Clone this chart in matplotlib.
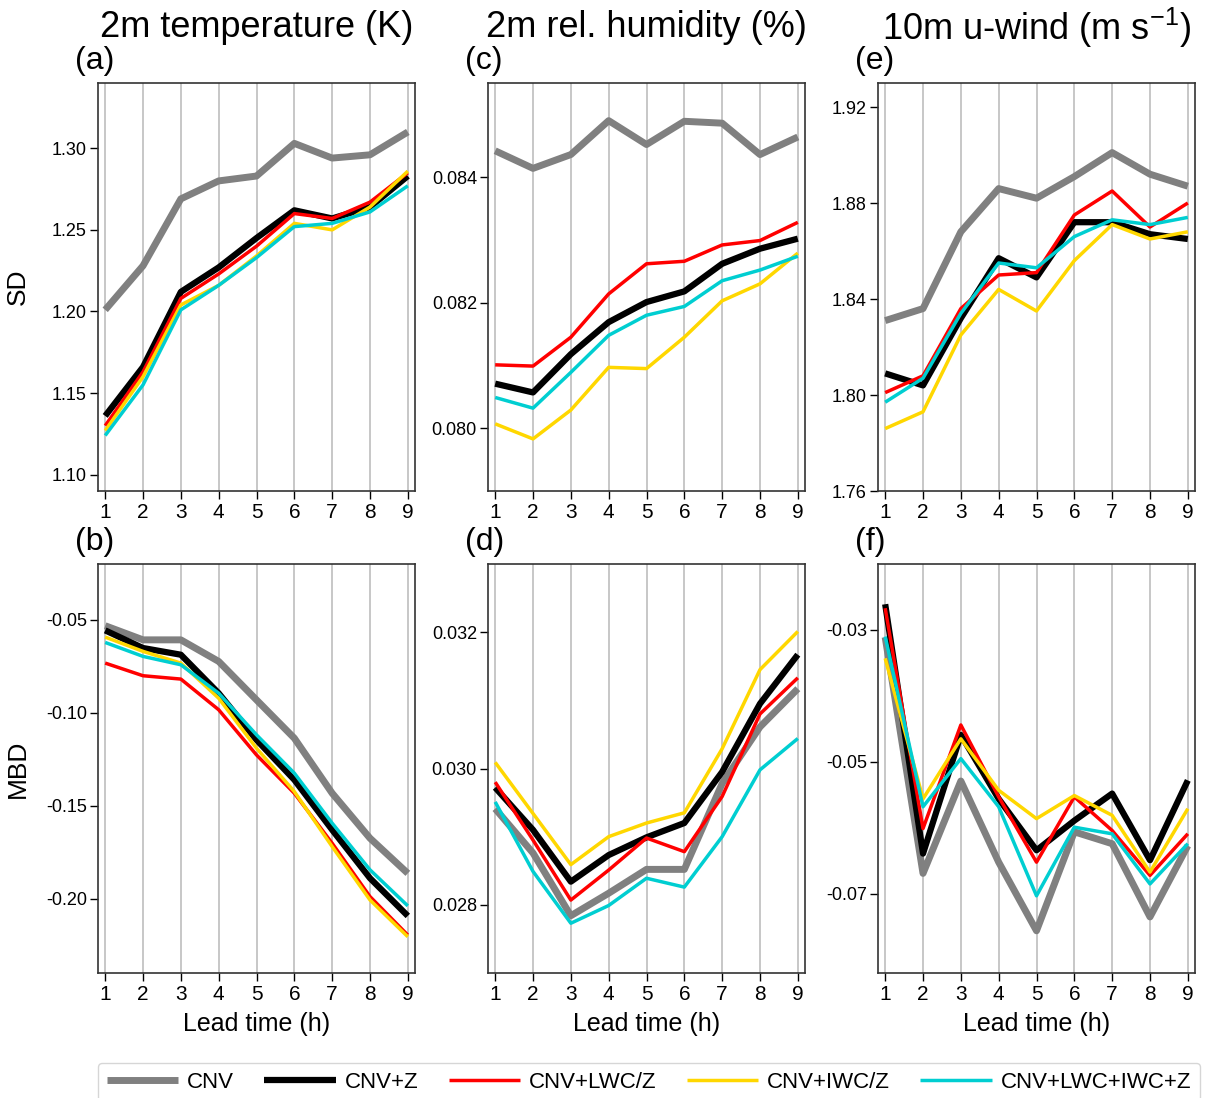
import numpy as np
import matplotlib
matplotlib.use("Agg")
import matplotlib.pyplot as plt
from matplotlib.ticker import FormatStrFormatter

plt.rcParams['font.family'] = ['Liberation Sans', 'DejaVu Sans']
plt.rcParams['mathtext.default'] = 'regular'
plt.rcParams['axes.unicode_minus'] = False

# lead times (h)
lead = [1, 2, 3, 4, 5, 6, 7, 8, 9]

experiments = ['CNV', 'CNV+Z', 'CNV+LWC/Z', 'CNV+IWC/Z', 'CNV+LWC+IWC+Z']

# (a) SD 2m temperature
sd_t2m_cnv   = [1.201, 1.228, 1.269, 1.280, 1.283, 1.303, 1.294, 1.296, 1.310]
sd_t2m_z     = [1.136, 1.166, 1.212, 1.227, 1.245, 1.262, 1.257, 1.264, 1.283]
sd_t2m_lwc   = [1.130, 1.163, 1.208, 1.223, 1.240, 1.260, 1.257, 1.267, 1.285]
sd_t2m_iwc   = [1.127, 1.160, 1.204, 1.216, 1.234, 1.254, 1.250, 1.264, 1.286]
sd_t2m_all   = [1.124, 1.155, 1.201, 1.216, 1.233, 1.252, 1.254, 1.261, 1.277]

# (c) SD 2m relative humidity
sd_rh2m_cnv  = [0.08442, 0.08414, 0.08436, 0.08490, 0.08452, 0.08489, 0.08486, 0.08436, 0.08464]
sd_rh2m_z    = [0.08071, 0.08057, 0.08118, 0.08169, 0.08201, 0.08218, 0.08262, 0.08286, 0.08302]
sd_rh2m_lwc  = [0.08101, 0.08099, 0.08145, 0.08214, 0.08262, 0.08266, 0.08292, 0.08299, 0.08328]
sd_rh2m_iwc  = [0.08007, 0.07983, 0.08029, 0.08097, 0.08095, 0.08145, 0.08203, 0.08230, 0.08279]
sd_rh2m_all  = [0.08049, 0.08032, 0.08089, 0.08148, 0.08180, 0.08194, 0.08235, 0.08252, 0.08274]

# (e) SD 10m u-wind
sd_u10_cnv   = [1.831, 1.836, 1.868, 1.886, 1.882, 1.891, 1.901, 1.892, 1.887]
sd_u10_z     = [1.809, 1.804, 1.832, 1.857, 1.849, 1.872, 1.872, 1.867, 1.865]
sd_u10_lwc   = [1.801, 1.808, 1.836, 1.850, 1.851, 1.875, 1.885, 1.870, 1.880]
sd_u10_iwc   = [1.786, 1.793, 1.825, 1.844, 1.835, 1.856, 1.871, 1.865, 1.868]
sd_u10_all   = [1.797, 1.807, 1.834, 1.855, 1.853, 1.866, 1.873, 1.871, 1.874]

# (b) MBD 2m temperature
mbd_t2m_cnv  = [-0.0532, -0.0608, -0.0608, -0.0724, -0.0931, -0.1137, -0.1433, -0.1675, -0.1864]
mbd_t2m_z    = [-0.0557, -0.0652, -0.0688, -0.0895, -0.1146, -0.1361, -0.1630, -0.1890, -0.2093]
mbd_t2m_lwc  = [-0.0733, -0.0801, -0.0819, -0.0984, -0.1227, -0.1433, -0.1702, -0.1989, -0.2196]
mbd_t2m_iwc  = [-0.0593, -0.0670, -0.0733, -0.0922, -0.1191, -0.1424, -0.1720, -0.2007, -0.2205]
mbd_t2m_all  = [-0.0622, -0.0697, -0.0742, -0.0895, -0.1119, -0.1325, -0.1594, -0.1845, -0.2039]

# (d) MBD 2m relative humidity
mbd_rh2m_cnv = [0.02941, 0.02876, 0.02784, 0.02817, 0.02852, 0.02852, 0.02978, 0.03061, 0.03117]
mbd_rh2m_z   = [0.02972, 0.02910, 0.02834, 0.02873, 0.02899, 0.02920, 0.02995, 0.03095, 0.03167]
mbd_rh2m_lwc = [0.02980, 0.02895, 0.02807, 0.02851, 0.02898, 0.02878, 0.02959, 0.03080, 0.03133]
mbd_rh2m_iwc = [0.03009, 0.02934, 0.02859, 0.02900, 0.02920, 0.02935, 0.03029, 0.03145, 0.03201]
mbd_rh2m_all = [0.02951, 0.02849, 0.02773, 0.02799, 0.02839, 0.02826, 0.02900, 0.02998, 0.03044]

# (f) MBD 10m u-wind
mbd_u10_cnv  = [-0.0311, -0.0669, -0.0529, -0.0652, -0.0756, -0.0606, -0.0624, -0.0735, -0.0627]
mbd_u10_z    = [-0.0261, -0.0639, -0.0459, -0.0556, -0.0634, -0.0589, -0.0548, -0.0649, -0.0528]
mbd_u10_lwc  = [-0.0267, -0.0601, -0.0444, -0.0553, -0.0652, -0.0553, -0.0604, -0.0672, -0.0609]
mbd_u10_iwc  = [-0.0343, -0.0556, -0.0465, -0.0543, -0.0586, -0.0551, -0.0581, -0.0667, -0.0571]
mbd_u10_all  = [-0.0310, -0.0568, -0.0495, -0.0568, -0.0703, -0.0599, -0.0609, -0.0685, -0.0624]

colors = ['#808080', 'black', 'red', '#FFD700', '#00CED1']
widths = [5.0, 4.5, 2.5, 2.5, 2.5]

col_titles = ['2m temperature (K)', '2m rel. humidity (%)', r'10m u-wind (m s$^{-1}$)']
row_labels = ['SD', 'MBD']
panel_tags = [['(a)', '(c)', '(e)'], ['(b)', '(d)', '(f)']]

panels = [
    [[sd_t2m_cnv, sd_t2m_z, sd_t2m_lwc, sd_t2m_iwc, sd_t2m_all],
     [sd_rh2m_cnv, sd_rh2m_z, sd_rh2m_lwc, sd_rh2m_iwc, sd_rh2m_all],
     [sd_u10_cnv, sd_u10_z, sd_u10_lwc, sd_u10_iwc, sd_u10_all]],
    [[mbd_t2m_cnv, mbd_t2m_z, mbd_t2m_lwc, mbd_t2m_iwc, mbd_t2m_all],
     [mbd_rh2m_cnv, mbd_rh2m_z, mbd_rh2m_lwc, mbd_rh2m_iwc, mbd_rh2m_all],
     [mbd_u10_cnv, mbd_u10_z, mbd_u10_lwc, mbd_u10_iwc, mbd_u10_all]],
]

ylims = [[(1.09, 1.34), (0.079, 0.0855), (1.76, 1.93)],
         [(-0.24, -0.02), (0.027, 0.033), (-0.082, -0.02)]]
yticks = [[[1.10, 1.15, 1.20, 1.25, 1.30], [0.080, 0.082, 0.084], [1.76, 1.80, 1.84, 1.88, 1.92]],
          [[-0.20, -0.15, -0.10, -0.05], [0.028, 0.030, 0.032], [-0.07, -0.05, -0.03]]]
yfmts = [['%.2f', '%.3f', '%.2f'], ['%.2f', '%.3f', '%.2f']]

W, H = 1205, 1098
fig = plt.figure(figsize=(W / 100, H / 100), dpi=100)

col_left = [98, 488, 878]
ax_w = 317
row_top = [83, 564]
ax_h = [408, 409]

handles = []
for r in range(2):
    for c in range(3):
        ax = fig.add_axes([col_left[c] / W, 1 - (row_top[r] + ax_h[r]) / H,
                           ax_w / W, ax_h[r] / H])
        for i, series in enumerate(panels[r][c]):
            ln, = ax.plot(lead, series, color=colors[i], lw=widths[i],
                          solid_capstyle='butt', zorder=2 + i, label=experiments[i])
            if r == 0 and c == 0:
                handles.append(ln)
        ax.set_xlim(0.81, 9.19)
        ax.set_ylim(*ylims[r][c])
        ax.set_xticks(lead)
        ax.set_yticks(yticks[r][c])
        ax.yaxis.set_major_formatter(FormatStrFormatter(yfmts[r][c]))
        ax.grid(axis='x', color='#bdbdbd', lw=1.2, zorder=0)
        ax.set_axisbelow(True)
        ax.tick_params(axis='x', labelsize=15, length=6, width=1.0, pad=3)
        ax.tick_params(axis='y', labelsize=13, length=6, width=1.0, pad=2)
        for sp in ax.spines.values():
            sp.set_color('#333333')
            sp.set_linewidth(1.2)
        ax.text(-0.073, 1.055, panel_tags[r][c], transform=ax.transAxes,
                ha='left', va='center', fontsize=23)
        if r == 0:
            ax.text(0.5, 1.135, col_titles[c], transform=ax.transAxes,
                    ha='center', va='center', fontsize=26)
        else:
            ax.set_xlabel('Lead time (h)', fontsize=18)
            ax.xaxis.set_label_coords(0.5, -0.095)
        if c == 0:
            ax.set_ylabel(row_labels[r], fontsize=19)
            ax.yaxis.set_label_coords(-0.214, 0.5)

fig.legend(handles=handles, labels=experiments, loc='upper left', ncol=5,
           mode='expand', fontsize=16, handlelength=3.2, handletextpad=0.4,
           bbox_to_anchor=(98 / W, 0, (1200 - 98) / W, 1 - 1063 / H),
           borderaxespad=0, frameon=True, edgecolor='#cccccc', fancybox=True)

fig.savefig('out.png', dpi=100)
